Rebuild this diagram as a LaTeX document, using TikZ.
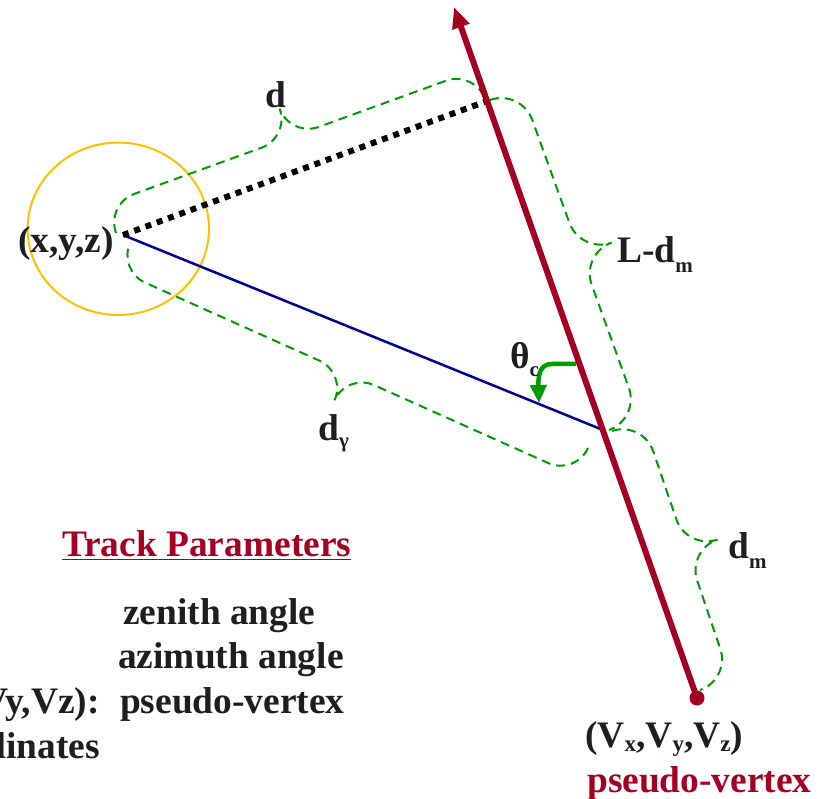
\documentclass[tikz,border=0pt]{standalone}
\usepackage{fontspec}
\setmainfont{Liberation Serif}
\usetikzlibrary{decorations,arrows.meta}
\pgfdeclaredecoration{pptbrace}{brace}
{%
  \state{brace}[width=+\pgfdecoratedremainingdistance,next state=final]
  {%
    \pgfpathmoveto{\pgfpointorigin}%
    \pgfpathcurveto
      {\pgfqpoint{0pt}{.276\pgfdecorationsegmentamplitude}}%
      {\pgfqpoint{.224\pgfdecorationsegmentamplitude}{.5\pgfdecorationsegmentamplitude}}%
      {\pgfqpoint{.5\pgfdecorationsegmentamplitude}{.5\pgfdecorationsegmentamplitude}}%
    {%
      \pgftransformxshift{+.5\pgfdecoratedremainingdistance}%
      \pgfpathlineto{\pgfqpoint{-.5\pgfdecorationsegmentamplitude}{.5\pgfdecorationsegmentamplitude}}%
      \pgfpathcurveto
        {\pgfqpoint{-.224\pgfdecorationsegmentamplitude}{.5\pgfdecorationsegmentamplitude}}%
        {\pgfqpoint{0pt}{.724\pgfdecorationsegmentamplitude}}%
        {\pgfqpoint{0pt}{\pgfdecorationsegmentamplitude}}%
      \pgfpathcurveto
        {\pgfqpoint{0pt}{.724\pgfdecorationsegmentamplitude}}%
        {\pgfqpoint{.224\pgfdecorationsegmentamplitude}{.5\pgfdecorationsegmentamplitude}}%
        {\pgfqpoint{.5\pgfdecorationsegmentamplitude}{.5\pgfdecorationsegmentamplitude}}%
    }%
    {%
      \pgftransformxshift{+\pgfdecoratedremainingdistance}%
      \pgfpathlineto{\pgfqpoint{-.5\pgfdecorationsegmentamplitude}{.5\pgfdecorationsegmentamplitude}}%
      \pgfpathcurveto
        {\pgfqpoint{-.224\pgfdecorationsegmentamplitude}{.5\pgfdecorationsegmentamplitude}}%
        {\pgfqpoint{0pt}{.276\pgfdecorationsegmentamplitude}}%
        {\pgfpointorigin}%
    }%
  }%
  \state{final}{}%
}
\definecolor{trackred}{RGB}{165,0,33}
\definecolor{rayblue}{RGB}{0,0,150}
\definecolor{bracegreen}{RGB}{0,155,0}
\definecolor{ringyellow}{RGB}{255,192,0}
\definecolor{ink}{RGB}{30,30,30}
\newcommand{\labsub}[3][21]{\raisebox{-#2pt}{\fontsize{#1}{#1}\selectfont #3}}
\begin{document}
\begin{tikzpicture}[x={(1pt,0pt)},y={(0pt,-1pt)},
  font=\fontsize{37.4}{44}\selectfont\bfseries,
  lab/.style={inner sep=0pt,text=ink,anchor=base west},
  bracestyle/.style={draw=bracegreen,line width=2pt,dash pattern=on 9pt off 6pt,decorate},
  trackline/.style={draw=trackred,line width=6pt,-{Triangle[length=21pt,width=17pt]}},
  rayline/.style={draw=rayblue,line width=2.5pt},
  dotline/.style={draw=black,line width=6pt,dash pattern=on 6pt off 6pt},
  ring/.style={draw=ringyellow,line width=2pt},
  anglearrow/.style={draw=bracegreen,line width=4.5pt,-{Triangle[length=18pt,width=16pt]}}]
\useasboundingbox (0,0) rectangle (825,799);
\clip (0,0) rectangle (825,799);
% key points
\coordinate (P) at (123,235);
\coordinate (D) at (487,101);
\coordinate (Q) at (603,430);
\coordinate (V) at (697,698);
\coordinate (T) at (454,7);
\coordinate (C) at (118.3,228.8);
% brace ends
\coordinate (dA) at (116,233);
\coordinate (dB) at (485,99);
\coordinate (LA) at (490,100);
\coordinate (LB) at (609,430);
\coordinate (mA) at (612,431);
\coordinate (mB) at (700,690);
\coordinate (gA) at (588,448);
\coordinate (gB) at (130,243);
% arrow for angle
\coordinate (aS) at (576,364);
\coordinate (aM) at (552,364);
\coordinate (aE) at (539,403);

\draw[ring] (C) ellipse[x radius=90.7pt,y radius=86.2pt];

\draw[bracestyle,decoration={pptbrace,amplitude=61pt}] (dA) -- (dB);
\draw[bracestyle,decoration={pptbrace,amplitude=66pt}] (LA) -- (LB);
\draw[bracestyle,decoration={pptbrace,amplitude=65pt}] (mA) -- (mB);
\draw[bracestyle,decoration={pptbrace,amplitude=60pt}] (gA) -- (gB);

\draw[rayline] (P) -- (Q);
\draw[dotline] (P) -- (D);
\draw[anglearrow] (aS) -- (aM) .. controls (541,364) and (538,373) .. (aE);
\draw[trackline] (V) -- (T);
\fill[trackred] (V) circle[radius=7.5pt];

\node[lab] (ld) at (265,108) {d};
\node[lab] (lldm) at (617,263) {L-d\labsub{10}{m}};
\node[lab] (ldm) at (728,558) {d\labsub{10}{m}};
\node[lab] (ldg) at (318,441) {d\labsub{7}{γ}};
\node[lab] (lth) at (510,369) {θ\labsub{8}{c}};
\node[lab] (lxyz) at (18,253) {(x,y,z)};
\node[lab,text=trackred] (tp) at (62,556) {Track Parameters};
\draw[trackred,line width=1.7pt] ([yshift=-3.5pt]tp.base west) -- ([yshift=-3.5pt]tp.base east);
\node[lab] (l1) at (123,624) {zenith angle};
\node[lab] (l2) at (118,668) {azimuth angle};
\node[lab] (l3) at (120,713) {pseudo-vertex};
\node[lab,anchor=base east] (l3a) at (100,713) {(Vx,Vy,Vz):};
\node[lab,anchor=base east] (l4) at (100,758) {coordinates};
\node[lab] (lv) at (585,747) {(V\labsub[23]{4}{x},V\labsub[23]{4}{y},V\labsub[23]{4}{z})};
\node[lab,text=trackred] (lpv) at (587,792) {pseudo-vertex};
\end{tikzpicture}
\end{document}
